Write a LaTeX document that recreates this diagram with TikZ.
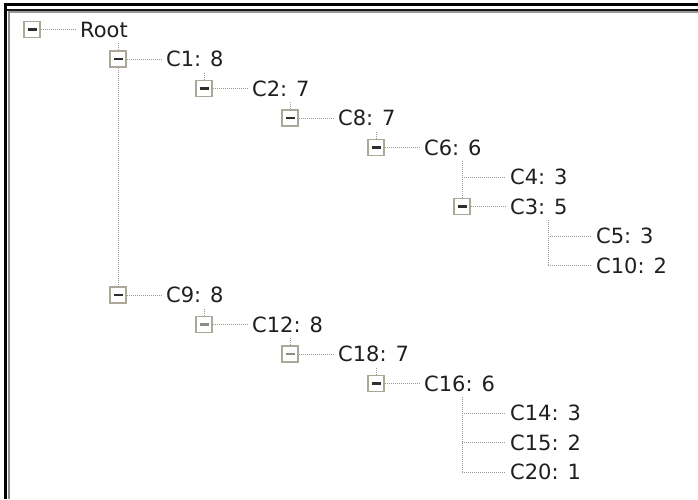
\documentclass[tikz,border=0pt]{standalone}
\usepackage{fontspec}
\setmainfont{DejaVu Sans}
\definecolor{boxgray}{HTML}{ACA899}
\definecolor{dotgray}{HTML}{9A9A9A}
\definecolor{minusdark}{HTML}{2E2E2E}
\definecolor{minuslight}{HTML}{8C8C8C}

\begin{document}
\begin{tikzpicture}[x=1pt, y=-1pt,
    tog/.style={draw=boxgray, line width=1.5pt, fill=white, minimum size=16pt, inner sep=0pt,
        path picture={\draw[line width=2.2pt, #1]
            ([xshift=-4.5pt]path picture bounding box.center) -- ([xshift=4.5pt]path picture bounding box.center);}},
    tog/.default=minusdark,
    lbl/.style={anchor=west, inner xsep=5pt, inner ysep=0pt, text=black!88, font=\fontsize{21}{25}\selectfont},
    conn/.style={draw=dotgray, line width=1pt, dash pattern=on 1pt off 1pt}]
    \useasboundingbox (0,0) rectangle (698,499);

    % Window frame
    \draw[black, line width=2.5pt] (5.5,499) |- (698,4.5);
    \draw[black!90, line width=2pt] (7,9.5) -- (698,9.5);
    \draw[black!40, line width=2.5pt] (8,12.2) -- (698,12.2);
    \draw[black!45, line width=2pt] (8.5,11) -- (8.5,499);

    % Toggle boxes
    \node[tog] (bRoot) at (32,29.5) {};
    \node[tog] (bC1)  at (118,59)  {};
    \node[tog] (bC2)  at (204,88.5) {};
    \node[tog] (bC8)  at (290,118) {};
    \node[tog] (bC6)  at (376,147.5) {};
    \node[tog] (bC3)  at (462,206.5) {};
    \node[tog] (bC9)  at (118,295) {};
    \node[tog=minuslight] (bC12) at (204,324.5) {};
    \node[tog=minuslight] (bC18) at (290,354) {};
    \node[tog] (bC16) at (376,383.5) {};

    % Leaf joints
    \coordinate (jC4)  at (462,177);
    \coordinate (jC5)  at (548,236);
    \coordinate (jC10) at (548,265.5);
    \coordinate (jC14) at (462,413);
    \coordinate (jC15) at (462,442.5);
    \coordinate (jC20) at (462,472);

    % Labels
    \node[lbl] (tRoot) at (75,29.5)  {Root};
    \node[lbl] (tC1)  at (161,59)    {C1: 8};
    \node[lbl] (tC2)  at (247,88.5)  {C2: 7};
    \node[lbl] (tC8)  at (333,118)   {C8: 7};
    \node[lbl] (tC6)  at (419,147.5) {C6: 6};
    \node[lbl] (tC4)  at (505,177)   {C4: 3};
    \node[lbl] (tC3)  at (505,206.5) {C3: 5};
    \node[lbl] (tC5)  at (591,236)   {C5: 3};
    \node[lbl] (tC10) at (591,265.5) {C10: 2};
    \node[lbl] (tC9)  at (161,295)   {C9: 8};
    \node[lbl] (tC12) at (247,324.5) {C12: 8};
    \node[lbl] (tC18) at (333,354)   {C18: 7};
    \node[lbl] (tC16) at (419,383.5) {C16: 6};
    \node[lbl] (tC14) at (505,413)   {C14: 3};
    \node[lbl] (tC15) at (505,442.5) {C15: 2};
    \node[lbl] (tC20) at (505,472)   {C20: 1};

    % Horizontal connections
    \foreach \n in {Root,C1,C2,C8,C6,C3,C9,C12,C18,C16}
        \draw[conn] (b\n.east) -- (t\n.west);
    \foreach \n in {C4,C5,C10,C14,C15,C20}
        \draw[conn] (j\n) -- (t\n.west);

    % Vertical connections
    \draw[conn] (bRoot.south -| bC1) ++(0,5) -- (bC1.north);
    \draw[conn] (bC1.south) -- (bC9.north);
    \draw[conn] (bC1.south -| bC2) ++(0,5) -- (bC2.north);
    \draw[conn] (bC2.south -| bC8) ++(0,5) -- (bC8.north);
    \draw[conn] (bC8.south -| bC6) ++(0,5) -- (bC6.north);
    \draw[conn] (bC6.south -| bC3) ++(0,5) -- (bC3.north);
    \draw[conn] (bC3.south -| jC5) ++(0,5) -- (jC10);
    \draw[conn] (bC9.south -| bC12) ++(0,5) -- (bC12.north);
    \draw[conn] (bC12.south -| bC18) ++(0,5) -- (bC18.north);
    \draw[conn] (bC18.south -| bC16) ++(0,5) -- (bC16.north);
    \draw[conn] (bC16.south -| jC14) ++(0,5) -- (jC20);
\end{tikzpicture}
\end{document}
